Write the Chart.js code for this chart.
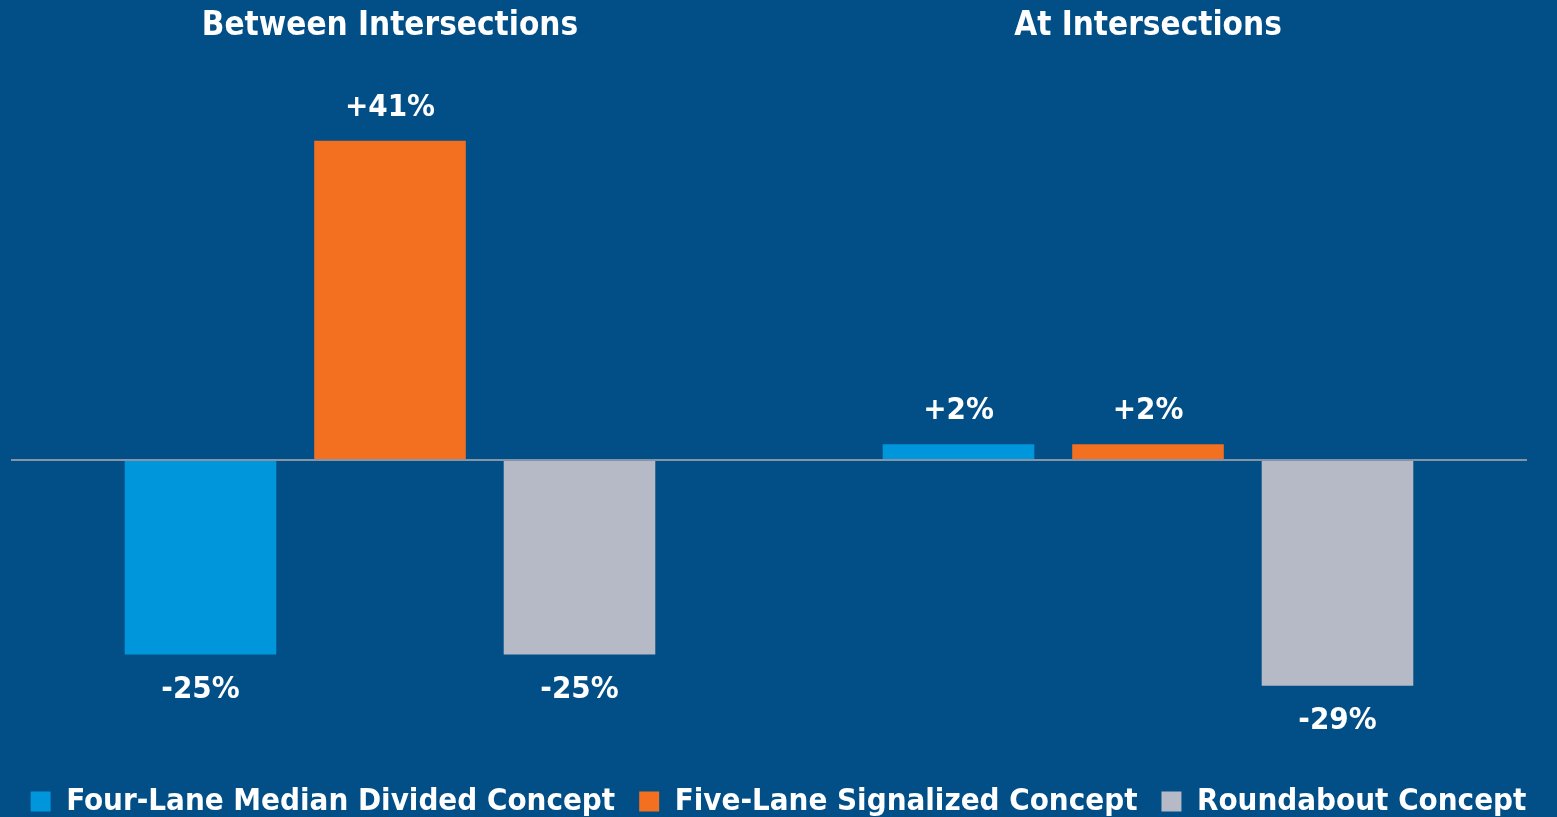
<!DOCTYPE html>
<html>
<head>
<meta charset="utf-8">
<script src="https://cdn.jsdelivr.net/npm/chart.js@4"></script>
<style>
 html,body{margin:0;padding:0;background:#024e87;}
 #wrap{width:1557px;height:817px;position:relative;}
</style>
</head>
<body>
<div id="wrap"><canvas id="chart"></canvas></div>
<script>
const categories=["Between Intersections","At Intersections"];
const seriesNames=["Four-Lane Median Divided Concept","Five-Lane Signalized Concept","Roundabout Concept"];
const fourLane=[-25,2];
const fiveLane=[41,2];
const roundabout=[-25,-29];
const colors=["#0096dc","#f37021","#b5bac6"];

const FONT="'Liberation Sans Narrow','DejaVu Sans Condensed','Roboto Condensed',sans-serif";

const valueLabels={
 id:"valueLabels",
 afterDatasetsDraw(c){
  const ctx=c.ctx;
  ctx.save();
  ctx.fillStyle="#ffffff";
  ctx.font="bold 31px "+FONT;
  ctx.textAlign="center";
  ctx.textBaseline="middle";
  c.data.datasets.forEach((ds,di)=>{
   c.getDatasetMeta(di).data.forEach((bar,i)=>{
    let v=ds.data[i];
    let txt=(v>0?"+":"")+v+"%";
    let y=v>=0?bar.y-33:bar.y+35;
    ctx.fillText(txt,bar.x,y);
   });
  });
  ctx.restore();
 }
};

new Chart(document.getElementById("chart"),{
 type:"bar",
 data:{
  labels:categories,
  datasets:[
   {label:seriesNames[0],data:fourLane,backgroundColor:colors[0]},
   {label:seriesNames[1],data:fiveLane,backgroundColor:colors[1]},
   {label:seriesNames[2],data:roundabout,backgroundColor:colors[2]}
  ]
 },
 options:{
  responsive:true,
  maintainAspectRatio:false,
  animation:false,
  categoryPercentage:0.75,
  barPercentage:0.8,
  layout:{padding:{left:0,right:0,top:7,bottom:-10}},
  plugins:{
   tooltip:{enabled:false},
   legend:{
    position:"bottom",
    labels:{
     color:"#ffffff",
     font:{family:FONT,size:31,weight:"bold"},
     boxWidth:20,boxHeight:20,padding:24
    }
   }
  },
  scales:{
   x:{
    position:"top",
    grid:{display:false},
    border:{display:false},
    ticks:{color:"#ffffff",font:{family:FONT,size:33,weight:"bold"},padding:0}
   },
   y:{
    min:-38.8,max:52.05,
    afterFit:s=>{s.width=11;},
    ticks:{display:false},
    border:{display:false},
    grid:{
     drawTicks:false,
     color:ctx=>ctx.tick&&ctx.tick.value===0?"#8694a8":"transparent",
     lineWidth:2
    }
   },
   yr:{
    position:"right",
    afterFit:s=>{s.width=30;},
    ticks:{display:false},
    grid:{display:false},
    border:{display:false}
   }
  }
 },
 plugins:[valueLabels]
});
</script>
</body>
</html>
